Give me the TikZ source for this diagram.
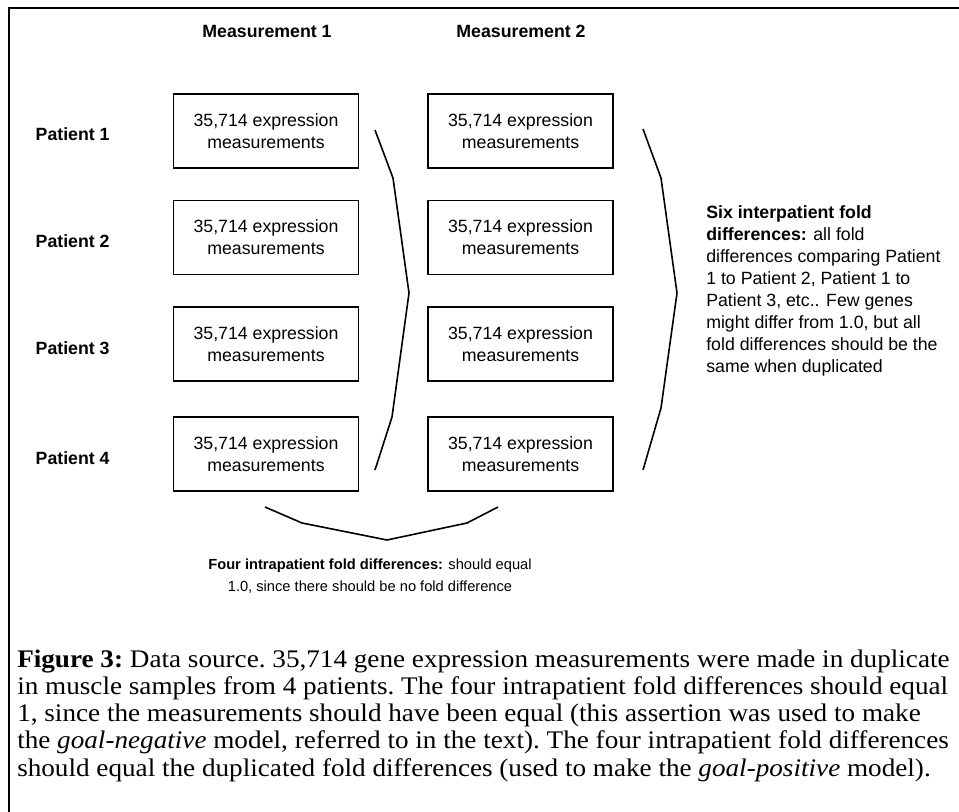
\documentclass[tikz,border=0pt]{standalone}
\usepackage{fontspec}
\setmainfont{Liberation Serif}
\setsansfont{Liberation Sans}
\usepackage{graphicx}
\usepackage{tikz}
\tikzset{node distance=4cm, auto}
\tikzset{meas/.style={draw, line width=1.4pt, minimum width=138.75pt, minimum height=55.5pt, inner sep=0pt, align=center, font=\sffamily\fontsize{13.3}{16.5}\selectfont}}
\tikzset{lbl/.style={font=\sffamily\bfseries\fontsize{13.3}{16.5}\selectfont}}
\tikzset{brace/.style={line width=1.2pt, line join=round}}

\begin{document}
\begin{tikzpicture}[x=0.75pt, y=-0.75pt, node distance=190.9pt]
		\useasboundingbox (0,0) rectangle (959,812);
		\draw[line width=1.5pt](9,812) -- (9,8) -- (959,8);
		\node(H1)[lbl] at (267,31){Measurement 1};
		\node(H2)[lbl] at (521,31){Measurement 2};
		\node(A1)[meas] at (266,131){35,714 expression\\measurements};
		\node(B1)[meas, right of=A1]{35,714 expression\\measurements};
		\node(A2)[meas, below of=A1, node distance=79.9pt]{35,714 expression\\measurements};
		\node(B2)[meas, right of=A2]{35,714 expression\\measurements};
		\node(A3)[meas, below of=A2, node distance=79.9pt]{35,714 expression\\measurements};
		\node(B3)[meas, right of=A3]{35,714 expression\\measurements};
		\node(A4)[meas, below of=A3, node distance=82.5pt]{35,714 expression\\measurements};
		\node(B4)[meas, right of=A4]{35,714 expression\\measurements};
		\node(P1)[lbl, anchor=west] at (31,134){Patient 1};
		\node(P2)[lbl, anchor=west] at (31,241){Patient 2};
		\node(P3)[lbl, anchor=west] at (31,348){Patient 3};
		\node(P4)[lbl, anchor=west] at (31,458){Patient 4};
		\draw[brace](375,130) -- (393,178) -- (409,293) -- (392,417) -- (375,470);
		\draw[brace](643,129) -- (661,178) -- (677,293) -- (661,408) -- (643,470);
		\draw[brace](265,507) -- (302,523) -- (387,540) -- (467,523) -- (498,507);
		\node(S)[anchor=north west, align=left, inner sep=0pt, font=\sffamily\fontsize{13.3}{16.5}\selectfont] at (706,205){\textbf{Six interpatient fold}\\\textbf{differences:} all fold\\differences comparing Patient\\1 to Patient 2, Patient 1 to\\Patient 3, etc.. Few genes\\might differ from 1.0, but all\\fold differences should be the\\same when duplicated};
		\node(F)[align=center, inner sep=0pt, font=\sffamily\fontsize{11}{16.5}\selectfont] at (370,576){\textbf{Four intrapatient fold differences:} should equal\\1.0, since there should be no fold difference};
		\node(C)[anchor=north west, inner sep=0pt] at (17,648){\scalebox{1.072}[1]{\fontsize{19}{20.4}\selectfont\frenchspacing\begin{tabular}{@{}l@{}}\textbf{Figure 3:} Data source. 35,714 gene expression measurements were made in duplicate\\in muscle samples from 4 patients. The four intrapatient fold differences should equal\\1, since the measurements should have been equal (this assertion was used to make\\the \textit{goal-negative} model, referred to in the text). The four intrapatient fold differences\\should equal the duplicated fold differences (used to make the \textit{goal-positive} model).\end{tabular}}};
	\end{tikzpicture}
\end{document}
